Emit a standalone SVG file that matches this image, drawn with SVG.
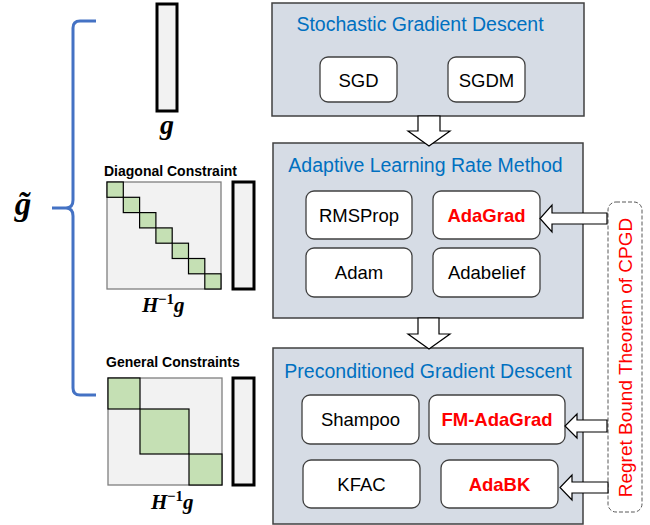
<svg xmlns="http://www.w3.org/2000/svg" width="650" height="525" viewBox="0 0 650 525">
<style>
.panel{fill:#d6dce5;stroke:#404040;stroke-width:1.5}
.title{font-family:"Liberation Sans",Arial,sans-serif;font-size:19.5px;fill:#0070c0;text-anchor:middle}
.box{fill:#fff;stroke:#404040;stroke-width:1.3}
.bt{font-family:"Liberation Sans",Arial,sans-serif;font-size:18.5px;fill:#000;text-anchor:middle}
.red{fill:#ff0000;font-weight:bold}
.arrow{fill:#fff;stroke:#000;stroke-width:1.2;stroke-linejoin:miter}
.vec{fill:#f2f2f2;stroke:#000;stroke-width:3}
.mat{fill:#f2f2f2;stroke:#7f7f7f;stroke-width:1.3}
.blk{fill:#c5e0b4;stroke:#000;stroke-width:1.2}
.lbl{font-family:"Liberation Sans",Arial,sans-serif;font-size:14px;font-weight:bold;fill:#000}
.math{font-family:"Liberation Serif","Times New Roman",serif;font-weight:bold;fill:#000}
</style>
<rect width="650" height="525" fill="#fff"/>

<!-- brace -->
<g id="brace">
<path d="M96,21 L80,21 Q73,21 73,28 L73,200 Q73,208 66,208 L52,208 M66,208 Q73,208 73,216 L73,388 Q73,395 80,395 L96,395" fill="none" stroke="#4472c4" stroke-width="3"/>
<text class="math" x="23" y="215" font-size="33" font-style="italic" text-anchor="middle">g̃</text>
</g>

<!-- g vector -->
<g id="g-vector">
<rect class="vec" x="157" y="4" width="20" height="107"/>
<text class="math" x="167" y="134" font-size="28" font-style="italic" text-anchor="middle">g</text>
</g>

<!-- diagonal constraint -->
<g id="diagonal">
<text class="lbl" x="104" y="176">Diagonal Constraint</text>
<rect class="mat" x="107" y="182" width="114" height="107"/>
<rect class="blk" x="107" y="182" width="16.3" height="15.3"/>
<rect class="blk" x="123.3" y="197.3" width="16.3" height="15.3"/>
<rect class="blk" x="139.6" y="212.6" width="16.3" height="15.3"/>
<rect class="blk" x="155.9" y="227.9" width="16.3" height="15.3"/>
<rect class="blk" x="172.2" y="243.2" width="16.3" height="15.3"/>
<rect class="blk" x="188.5" y="258.5" width="16.3" height="15.3"/>
<rect class="blk" x="204.8" y="273.8" width="16.2" height="15.2"/>
<rect class="vec" x="233" y="182" width="21" height="107"/>
<text class="math" x="142" y="312" font-size="21"><tspan font-style="italic">H</tspan><tspan x="158" font-size="15" dy="-8">−1</tspan><tspan x="174" font-style="italic" dy="8">g</tspan></text>
</g>

<!-- general constraints -->
<g id="general">
<text class="lbl" x="106" y="367">General Constraints</text>
<rect class="mat" x="108" y="378" width="114" height="107"/>
<rect class="blk" x="108" y="378" width="32" height="31"/>
<rect class="blk" x="140" y="409" width="49" height="45"/>
<rect class="blk" x="189" y="454" width="33" height="31"/>
<rect class="vec" x="233" y="378" width="21" height="107"/>
<text class="math" x="151" y="509" font-size="21"><tspan font-style="italic">H</tspan><tspan x="167" font-size="15" dy="-8">−1</tspan><tspan x="183" font-style="italic" dy="8">g</tspan></text>
</g>

<!-- SGD panel -->
<g id="sgd-panel">
<rect class="panel" x="272" y="3" width="312" height="113"/>
<text class="title" x="420" y="31">Stochastic Gradient Descent</text>
</g>
<g id="sgd"><rect class="box" x="320" y="57" width="77" height="45" rx="8"/><text class="bt" x="358.5" y="87">SGD</text></g>
<g id="sgdm"><rect class="box" x="448" y="57" width="77" height="45" rx="8"/><text class="bt" x="486.5" y="87">SGDM</text></g>

<!-- ALR panel -->
<g id="alr-panel">
<rect class="panel" x="273" y="143" width="310" height="175"/>
<text class="title" x="425.5" y="172">Adaptive Learning Rate Method</text>
</g>
<g id="rmsprop"><rect class="box" x="306" y="191" width="106" height="48" rx="8"/><text class="bt" x="359" y="222">RMSProp</text></g>
<g id="adagrad"><rect class="box" x="433" y="191" width="107" height="48" rx="8"/><text class="bt red" x="486.5" y="222">AdaGrad</text></g>
<g id="adam"><rect class="box" x="306" y="248" width="106" height="49" rx="8"/><text class="bt" x="359" y="279">Adam</text></g>
<g id="adabelief"><rect class="box" x="433" y="248" width="107" height="49" rx="8"/><text class="bt" x="486.5" y="279">Adabelief</text></g>

<!-- PGD panel -->
<g id="pgd-panel">
<rect class="panel" x="273" y="348" width="310" height="176"/>
<text class="title" x="428" y="378">Preconditioned Gradient Descent</text>
</g>
<g id="shampoo"><rect class="box" x="302" y="395" width="117" height="49" rx="8"/><text class="bt" x="360.5" y="426">Shampoo</text></g>
<g id="fm-adagrad"><rect class="box" x="429" y="395" width="136" height="49" rx="8"/><text class="bt red" x="497" y="426">FM-AdaGrad</text></g>
<g id="kfac"><rect class="box" x="303" y="460" width="117" height="48" rx="8"/><text class="bt" x="361.5" y="491">KFAC</text></g>
<g id="adabk"><rect class="box" x="441" y="460" width="117" height="48" rx="8"/><text class="bt red" x="499.5" y="491">AdaBK</text></g>

<!-- regret box -->
<g id="regret">
<rect x="608" y="202" width="34" height="310" rx="8" fill="#fff" stroke="#595959" stroke-width="1" stroke-dasharray="4,2"/>
<text transform="translate(632,357.5) rotate(-90)" font-family="'Liberation Sans',Arial,sans-serif" font-size="19px" fill="#ff0000" text-anchor="middle">Regret Bound Theorem of CPGD</text>
</g>

<!-- connectors -->
<g id="connectors">
<polygon class="arrow" points="418,116 440,116 440,131 450,131 429,146 408,131 418,131"/>
<polygon class="arrow" points="418,318 439,318 439,334 450,334 429,349 408,334 418,334"/>
<polygon class="arrow" points="607,213 552,213 552,205 540,218.5 552,232 552,224 607,224"/>
<polygon class="arrow" points="607,420 577,420 577,414 565,426 577,438 577,432 607,432"/>
<polygon class="arrow" points="608,482 572,482 572,475 560,487.5 572,500 572,493 608,493"/>
</g>
</svg>
